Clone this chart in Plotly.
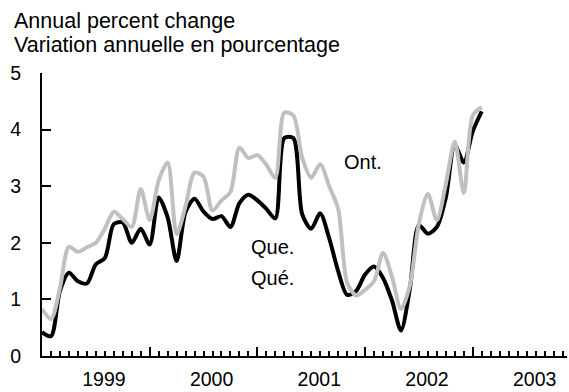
import plotly.graph_objects as go

# Monthly observations, month 0 = January 1999
months = list(range(50))

quebec = [0.42, 0.35, 1.15, 1.47, 1.32, 1.28, 1.62, 1.73, 2.33, 2.36,
          2.00, 2.25, 1.97, 2.80, 2.45, 1.68, 2.55, 2.78, 2.55, 2.42,
          2.47, 2.28, 2.70, 2.85, 2.75, 2.60, 2.43, 3.85, 3.85, 2.50,
          2.25, 2.52, 2.08, 1.50, 1.08, 1.15, 1.44, 1.58, 1.38, 0.98,
          0.45, 1.20, 2.31, 2.16, 2.28, 2.80, 3.73, 3.42, 3.97, 4.32]

ontario = [0.83, 0.65, 1.20, 1.93, 1.84, 1.92, 2.00, 2.25, 2.55, 2.42,
           2.28, 2.95, 2.40, 3.10, 3.42, 2.15, 2.65, 3.24, 3.17, 2.57,
           2.75, 2.90, 3.68, 3.50, 3.55, 3.38, 3.15, 4.30, 4.25, 3.50,
           3.15, 3.39, 3.00, 2.60, 1.30, 1.07, 1.17, 1.32, 1.82, 1.40,
           0.83, 1.25, 2.34, 2.86, 2.40, 3.04, 3.79, 2.88, 4.25, 4.40]

years = ["1999", "2000", "2001", "2002", "2003"]
year_starts = [0, 12, 24, 36, 48]
y_ticks = [0, 1, 2, 3, 4, 5]

x_range = [0, 58.5]
font = "Liberation Sans, Arial, sans-serif"

fig = go.Figure()
fig.add_trace(go.Scatter(
    x=months, y=quebec, mode="lines", xaxis="x", yaxis="y",
    line=dict(color="black", width=4, shape="spline", smoothing=0.8),
    showlegend=False, hoverinfo="skip"))
fig.add_trace(go.Scatter(
    x=months, y=ontario, mode="lines", xaxis="x2", yaxis="y",
    line=dict(color="#c0c0c0", width=4, shape="spline", smoothing=0.8),
    showlegend=False, hoverinfo="skip"))

fig.update_layout(
    width=569, height=392,
    margin=dict(l=42, r=2, t=73, b=33),
    paper_bgcolor="white", plot_bgcolor="white",
    font=dict(family=font, size=20, color="black"),
    xaxis=dict(
        range=x_range, showgrid=False, zeroline=False,
        showline=True, linecolor="black", linewidth=2,
        tickmode="array", tickvals=[s + 6.9 for s in year_starts], ticktext=years,
        ticks="", ticklabelstandoff=5,
        tickfont=dict(size=19.5)),
    xaxis2=dict(
        range=x_range, overlaying="x", showgrid=False, zeroline=False,
        showline=False, showticklabels=False,
        tickmode="linear", tick0=0, dtick=12,
        ticks="inside", ticklen=9, tickwidth=2, tickcolor="black",
        minor=dict(tickmode="linear", tick0=0, dtick=1, ticks="inside",
                   ticklen=5, tickwidth=1.5, tickcolor="black", showgrid=False)),
    yaxis=dict(
        range=[0, 5], showgrid=False, zeroline=False,
        showline=True, linecolor="black", linewidth=2,
        tickmode="array", tickvals=y_ticks,
        ticks="inside", ticklen=9, tickwidth=2, tickcolor="black",
        ticklabelstandoff=15, tickfont=dict(size=19.5)),
)

# Axis title lines above the plot
fig.add_annotation(text="Annual percent change", xref="paper", yref="paper",
                   x=-30 / 525, y=1 + 53 / 286, xanchor="left", yanchor="middle",
                   showarrow=False, font=dict(size=21.5))
fig.add_annotation(text="Variation annuelle en pourcentage", xref="paper", yref="paper",
                   x=-30 / 525, y=1 + 28 / 286, xanchor="left", yanchor="middle",
                   showarrow=False, font=dict(size=21.5))

# Series labels
fig.add_annotation(text="Ont.", x=35.8, y=3.42, xref="x", yref="y",
                   showarrow=False, font=dict(size=20))
fig.add_annotation(text="Que.", x=25.7, y=1.93, xref="x", yref="y",
                   showarrow=False, font=dict(size=20))
fig.add_annotation(text="Qué.", x=25.7, y=1.38, xref="x", yref="y",
                   showarrow=False, font=dict(size=20))

fig.write_html("out.html")
